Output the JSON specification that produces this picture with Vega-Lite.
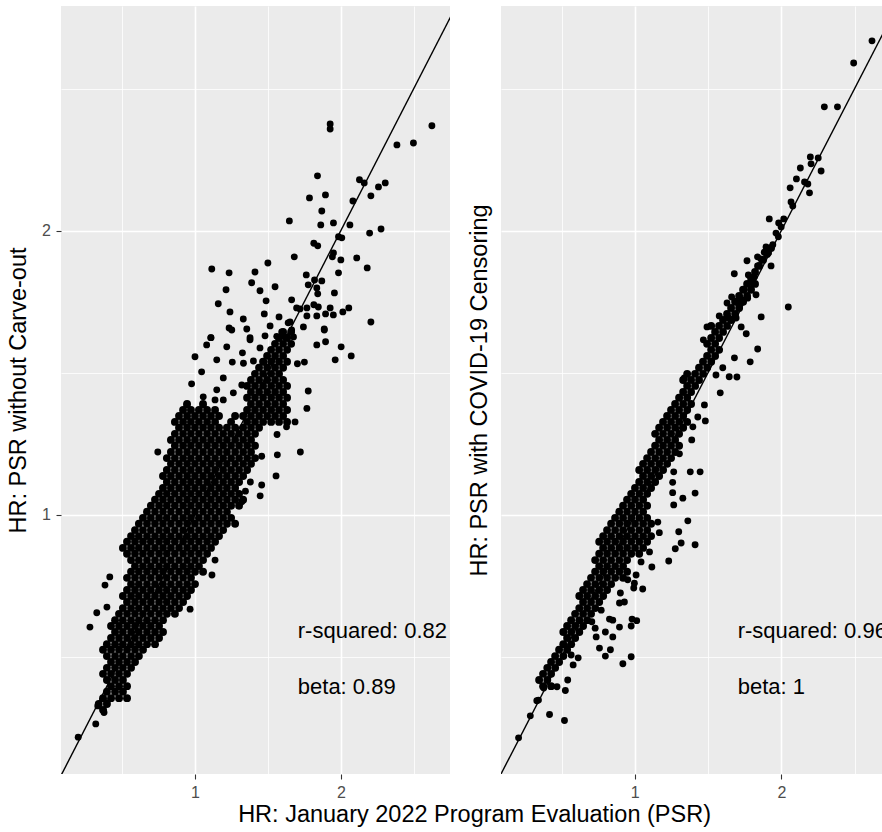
{
"$schema": "https://vega.github.io/schema/vega-lite/v6.json",
"padding": {"left": 6, "top": 6, "right": 0, "bottom": 0},
"background": "white",
"config": {"view": {"fill": "#EBEBEB", "stroke": null}, "font": "Liberation Sans"},
"title": {"text": "HR: January 2022 Program Evaluation (PSR)", "orient": "bottom", "anchor": "middle", "fontSize": 23.5, "fontWeight": "normal", "color": "#000000", "font": "Liberation Sans", "offset": 3, "dx": 30},
"spacing": 17,
"datasets": {
"Lcore": [
{"x":0.646,"y":0.621},
{"x":0.633,"y":0.630},{"x":0.658,"y":0.630},
{"x":0.646,"y":0.639},{"x":0.671,"y":0.639},{"x":0.697,"y":0.639},{"x":0.724,"y":0.639},
{"x":0.658,"y":0.649},{"x":0.684,"y":0.649},{"x":0.710,"y":0.649},
{"x":0.671,"y":0.658},{"x":0.697,"y":0.658},{"x":0.724,"y":0.658},
{"x":0.658,"y":0.668},{"x":0.684,"y":0.668},{"x":0.710,"y":0.668},
{"x":0.646,"y":0.678},{"x":0.671,"y":0.678},{"x":0.697,"y":0.678},{"x":0.724,"y":0.678},
{"x":0.658,"y":0.688},{"x":0.684,"y":0.688},{"x":0.710,"y":0.688},{"x":0.738,"y":0.688},
{"x":0.671,"y":0.698},{"x":0.697,"y":0.698},{"x":0.724,"y":0.698},{"x":0.752,"y":0.698},
{"x":0.658,"y":0.708},{"x":0.684,"y":0.708},{"x":0.710,"y":0.708},{"x":0.738,"y":0.708},{"x":0.766,"y":0.708},
{"x":0.646,"y":0.719},{"x":0.671,"y":0.719},{"x":0.697,"y":0.719},{"x":0.724,"y":0.719},{"x":0.752,"y":0.719},{"x":0.781,"y":0.719},
{"x":0.658,"y":0.729},{"x":0.684,"y":0.729},{"x":0.710,"y":0.729},{"x":0.738,"y":0.729},{"x":0.766,"y":0.729},{"x":0.796,"y":0.729},{"x":0.827,"y":0.729},
{"x":0.671,"y":0.740},{"x":0.697,"y":0.740},{"x":0.724,"y":0.740},{"x":0.752,"y":0.740},{"x":0.781,"y":0.740},{"x":0.811,"y":0.740},{"x":0.843,"y":0.740},
{"x":0.684,"y":0.751},{"x":0.710,"y":0.751},{"x":0.738,"y":0.751},{"x":0.766,"y":0.751},{"x":0.796,"y":0.751},{"x":0.827,"y":0.751},{"x":0.859,"y":0.751},
{"x":0.671,"y":0.762},{"x":0.697,"y":0.762},{"x":0.724,"y":0.762},{"x":0.752,"y":0.762},{"x":0.781,"y":0.762},{"x":0.811,"y":0.762},{"x":0.843,"y":0.762},
{"x":0.684,"y":0.773},{"x":0.710,"y":0.773},{"x":0.738,"y":0.773},{"x":0.766,"y":0.773},{"x":0.796,"y":0.773},{"x":0.827,"y":0.773},{"x":0.859,"y":0.773},
{"x":0.697,"y":0.785},{"x":0.724,"y":0.785},{"x":0.752,"y":0.785},{"x":0.781,"y":0.785},{"x":0.811,"y":0.785},{"x":0.843,"y":0.785},{"x":0.875,"y":0.785},{"x":0.909,"y":0.785},
{"x":0.710,"y":0.796},{"x":0.738,"y":0.796},{"x":0.766,"y":0.796},{"x":0.796,"y":0.796},{"x":0.827,"y":0.796},{"x":0.859,"y":0.796},{"x":0.892,"y":0.796},{"x":0.927,"y":0.796},
{"x":0.724,"y":0.808},{"x":0.752,"y":0.808},{"x":0.781,"y":0.808},{"x":0.811,"y":0.808},{"x":0.843,"y":0.808},{"x":0.875,"y":0.808},{"x":0.909,"y":0.808},{"x":0.945,"y":0.808},
{"x":0.710,"y":0.820},{"x":0.738,"y":0.820},{"x":0.766,"y":0.820},{"x":0.796,"y":0.820},{"x":0.827,"y":0.820},{"x":0.859,"y":0.820},{"x":0.892,"y":0.820},{"x":0.927,"y":0.820},{"x":0.963,"y":0.820},
{"x":0.724,"y":0.832},{"x":0.752,"y":0.832},{"x":0.781,"y":0.832},{"x":0.811,"y":0.832},{"x":0.843,"y":0.832},{"x":0.875,"y":0.832},{"x":0.909,"y":0.832},{"x":0.945,"y":0.832},{"x":0.981,"y":0.832},
{"x":0.738,"y":0.844},{"x":0.766,"y":0.844},{"x":0.796,"y":0.844},{"x":0.827,"y":0.844},{"x":0.859,"y":0.844},{"x":0.892,"y":0.844},{"x":0.927,"y":0.844},{"x":0.963,"y":0.844},{"x":1.0,"y":0.844},
{"x":0.724,"y":0.857},{"x":0.752,"y":0.857},{"x":0.781,"y":0.857},{"x":0.811,"y":0.857},{"x":0.843,"y":0.857},{"x":0.875,"y":0.857},{"x":0.909,"y":0.857},{"x":0.945,"y":0.857},{"x":0.981,"y":0.857},
{"x":0.738,"y":0.870},{"x":0.766,"y":0.870},{"x":0.796,"y":0.870},{"x":0.827,"y":0.870},{"x":0.859,"y":0.870},{"x":0.892,"y":0.870},{"x":0.927,"y":0.870},{"x":0.963,"y":0.870},{"x":1.0,"y":0.870},{"x":1.039,"y":0.870},
{"x":0.752,"y":0.882},{"x":0.781,"y":0.882},{"x":0.811,"y":0.882},{"x":0.843,"y":0.882},{"x":0.875,"y":0.882},{"x":0.909,"y":0.882},{"x":0.945,"y":0.882},{"x":0.981,"y":0.882},{"x":1.019,"y":0.882},
{"x":0.738,"y":0.895},{"x":0.766,"y":0.895},{"x":0.796,"y":0.895},{"x":0.827,"y":0.895},{"x":0.859,"y":0.895},{"x":0.892,"y":0.895},{"x":0.927,"y":0.895},{"x":0.963,"y":0.895},{"x":1.0,"y":0.895},{"x":1.039,"y":0.895},
{"x":0.724,"y":0.909},{"x":0.752,"y":0.909},{"x":0.781,"y":0.909},{"x":0.811,"y":0.909},{"x":0.843,"y":0.909},{"x":0.875,"y":0.909},{"x":0.909,"y":0.909},{"x":0.945,"y":0.909},{"x":0.981,"y":0.909},{"x":1.019,"y":0.909},{"x":1.059,"y":0.909},
{"x":0.710,"y":0.922},{"x":0.738,"y":0.922},{"x":0.766,"y":0.922},{"x":0.796,"y":0.922},{"x":0.827,"y":0.922},{"x":0.859,"y":0.922},{"x":0.892,"y":0.922},{"x":0.927,"y":0.922},{"x":0.963,"y":0.922},{"x":1.0,"y":0.922},{"x":1.039,"y":0.922},{"x":1.079,"y":0.922},
{"x":0.724,"y":0.936},{"x":0.752,"y":0.936},{"x":0.781,"y":0.936},{"x":0.811,"y":0.936},{"x":0.843,"y":0.936},{"x":0.875,"y":0.936},{"x":0.909,"y":0.936},{"x":0.945,"y":0.936},{"x":0.981,"y":0.936},{"x":1.019,"y":0.936},{"x":1.059,"y":0.936},{"x":1.1,"y":0.936},
{"x":0.738,"y":0.949},{"x":0.766,"y":0.949},{"x":0.796,"y":0.949},{"x":0.827,"y":0.949},{"x":0.859,"y":0.949},{"x":0.892,"y":0.949},{"x":0.927,"y":0.949},{"x":0.963,"y":0.949},{"x":1.0,"y":0.949},{"x":1.039,"y":0.949},{"x":1.079,"y":0.949},{"x":1.121,"y":0.949},
{"x":0.752,"y":0.963},{"x":0.781,"y":0.963},{"x":0.811,"y":0.963},{"x":0.843,"y":0.963},{"x":0.875,"y":0.963},{"x":0.909,"y":0.963},{"x":0.945,"y":0.963},{"x":0.981,"y":0.963},{"x":1.019,"y":0.963},{"x":1.059,"y":0.963},{"x":1.1,"y":0.963},{"x":1.143,"y":0.963},
{"x":0.766,"y":0.978},{"x":0.796,"y":0.978},{"x":0.827,"y":0.978},{"x":0.859,"y":0.978},{"x":0.892,"y":0.978},{"x":0.927,"y":0.978},{"x":0.963,"y":0.978},{"x":1.0,"y":0.978},{"x":1.039,"y":0.978},{"x":1.079,"y":0.978},{"x":1.121,"y":0.978},{"x":1.164,"y":0.978},{"x":1.21,"y":0.978},
{"x":0.781,"y":0.992},{"x":0.811,"y":0.992},{"x":0.843,"y":0.992},{"x":0.875,"y":0.992},{"x":0.909,"y":0.992},{"x":0.945,"y":0.992},{"x":0.981,"y":0.992},{"x":1.019,"y":0.992},{"x":1.059,"y":0.992},{"x":1.1,"y":0.992},{"x":1.143,"y":0.992},{"x":1.187,"y":0.992},
{"x":0.796,"y":1.007},{"x":0.827,"y":1.007},{"x":0.859,"y":1.007},{"x":0.892,"y":1.007},{"x":0.927,"y":1.007},{"x":0.963,"y":1.007},{"x":1.0,"y":1.007},{"x":1.039,"y":1.007},{"x":1.079,"y":1.007},{"x":1.121,"y":1.007},{"x":1.164,"y":1.007},
{"x":0.811,"y":1.022},{"x":0.843,"y":1.022},{"x":0.875,"y":1.022},{"x":0.909,"y":1.022},{"x":0.945,"y":1.022},{"x":0.981,"y":1.022},{"x":1.019,"y":1.022},{"x":1.059,"y":1.022},{"x":1.1,"y":1.022},{"x":1.143,"y":1.022},{"x":1.187,"y":1.022},{"x":1.233,"y":1.022},
{"x":0.827,"y":1.037},{"x":0.859,"y":1.037},{"x":0.892,"y":1.037},{"x":0.927,"y":1.037},{"x":0.963,"y":1.037},{"x":1.0,"y":1.037},{"x":1.039,"y":1.037},{"x":1.079,"y":1.037},{"x":1.121,"y":1.037},{"x":1.164,"y":1.037},{"x":1.21,"y":1.037},{"x":1.257,"y":1.037},
{"x":0.843,"y":1.052},{"x":0.875,"y":1.052},{"x":0.909,"y":1.052},{"x":0.945,"y":1.052},{"x":0.981,"y":1.052},{"x":1.019,"y":1.052},{"x":1.059,"y":1.052},{"x":1.1,"y":1.052},{"x":1.143,"y":1.052},{"x":1.187,"y":1.052},{"x":1.233,"y":1.052},
{"x":0.859,"y":1.067},{"x":0.892,"y":1.067},{"x":0.927,"y":1.067},{"x":0.963,"y":1.067},{"x":1.0,"y":1.067},{"x":1.039,"y":1.067},{"x":1.079,"y":1.067},{"x":1.121,"y":1.067},{"x":1.164,"y":1.067},{"x":1.21,"y":1.067},
{"x":0.875,"y":1.083},{"x":0.909,"y":1.083},{"x":0.945,"y":1.083},{"x":0.981,"y":1.083},{"x":1.019,"y":1.083},{"x":1.059,"y":1.083},{"x":1.1,"y":1.083},{"x":1.143,"y":1.083},{"x":1.187,"y":1.083},{"x":1.233,"y":1.083},
{"x":0.859,"y":1.099},{"x":0.892,"y":1.099},{"x":0.927,"y":1.099},{"x":0.963,"y":1.099},{"x":1.0,"y":1.099},{"x":1.039,"y":1.099},{"x":1.079,"y":1.099},{"x":1.121,"y":1.099},{"x":1.164,"y":1.099},{"x":1.21,"y":1.099},{"x":1.257,"y":1.099},
{"x":0.875,"y":1.115},{"x":0.909,"y":1.115},{"x":0.945,"y":1.115},{"x":0.981,"y":1.115},{"x":1.019,"y":1.115},{"x":1.059,"y":1.115},{"x":1.1,"y":1.115},{"x":1.143,"y":1.115},{"x":1.187,"y":1.115},{"x":1.233,"y":1.115},{"x":1.281,"y":1.115},
{"x":0.892,"y":1.132},{"x":0.927,"y":1.132},{"x":0.963,"y":1.132},{"x":1.0,"y":1.132},{"x":1.039,"y":1.132},{"x":1.079,"y":1.132},{"x":1.121,"y":1.132},{"x":1.164,"y":1.132},{"x":1.21,"y":1.132},{"x":1.257,"y":1.132},{"x":1.305,"y":1.132},
{"x":0.875,"y":1.148},{"x":0.909,"y":1.148},{"x":0.945,"y":1.148},{"x":0.981,"y":1.148},{"x":1.019,"y":1.148},{"x":1.059,"y":1.148},{"x":1.1,"y":1.148},{"x":1.143,"y":1.148},{"x":1.187,"y":1.148},{"x":1.233,"y":1.148},{"x":1.281,"y":1.148},{"x":1.33,"y":1.148},
{"x":0.892,"y":1.165},{"x":0.927,"y":1.165},{"x":0.963,"y":1.165},{"x":1.0,"y":1.165},{"x":1.039,"y":1.165},{"x":1.079,"y":1.165},{"x":1.121,"y":1.165},{"x":1.164,"y":1.165},{"x":1.21,"y":1.165},{"x":1.257,"y":1.165},{"x":1.305,"y":1.165},
{"x":0.909,"y":1.183},{"x":0.945,"y":1.183},{"x":0.981,"y":1.183},{"x":1.019,"y":1.183},{"x":1.059,"y":1.183},{"x":1.1,"y":1.183},{"x":1.143,"y":1.183},{"x":1.187,"y":1.183},{"x":1.233,"y":1.183},{"x":1.281,"y":1.183},{"x":1.33,"y":1.183},
{"x":0.892,"y":1.2},{"x":0.927,"y":1.2},{"x":0.963,"y":1.2},{"x":1.0,"y":1.2},{"x":1.039,"y":1.2},{"x":1.079,"y":1.2},{"x":1.121,"y":1.2},{"x":1.164,"y":1.2},{"x":1.21,"y":1.2},{"x":1.257,"y":1.2},{"x":1.305,"y":1.2},
{"x":0.909,"y":1.218},{"x":0.945,"y":1.218},{"x":0.981,"y":1.218},{"x":1.019,"y":1.218},{"x":1.059,"y":1.218},{"x":1.1,"y":1.218},{"x":1.143,"y":1.218},{"x":1.187,"y":1.218},{"x":1.233,"y":1.218},{"x":1.281,"y":1.218},{"x":1.33,"y":1.218},
{"x":0.927,"y":1.236},{"x":0.963,"y":1.236},{"x":1.0,"y":1.236},{"x":1.039,"y":1.236},{"x":1.079,"y":1.236},{"x":1.121,"y":1.236},{"x":1.164,"y":1.236},{"x":1.21,"y":1.236},{"x":1.257,"y":1.236},{"x":1.305,"y":1.236},{"x":1.356,"y":1.236},
{"x":0.909,"y":1.254},{"x":0.945,"y":1.254},{"x":0.981,"y":1.254},{"x":1.019,"y":1.254},{"x":1.059,"y":1.254},{"x":1.1,"y":1.254},{"x":1.187,"y":1.254},{"x":1.281,"y":1.254},{"x":1.33,"y":1.254},{"x":1.382,"y":1.254},{"x":1.436,"y":1.254},{"x":1.491,"y":1.254},{"x":1.549,"y":1.254},
{"x":0.927,"y":1.272},{"x":0.963,"y":1.272},{"x":1.0,"y":1.272},{"x":1.039,"y":1.272},{"x":1.079,"y":1.272},{"x":1.121,"y":1.272},{"x":1.21,"y":1.272},{"x":1.257,"y":1.272},{"x":1.305,"y":1.272},{"x":1.356,"y":1.272},{"x":1.409,"y":1.272},{"x":1.463,"y":1.272},{"x":1.52,"y":1.272},
{"x":0.945,"y":1.291},{"x":0.981,"y":1.291},{"x":1.019,"y":1.291},{"x":1.059,"y":1.291},{"x":1.1,"y":1.291},{"x":1.281,"y":1.291},{"x":1.33,"y":1.291},{"x":1.382,"y":1.291},{"x":1.436,"y":1.291},{"x":1.491,"y":1.291},{"x":1.549,"y":1.291},
{"x":0.963,"y":1.31},{"x":1.039,"y":1.31},{"x":1.305,"y":1.31},{"x":1.356,"y":1.31},{"x":1.409,"y":1.31},{"x":1.463,"y":1.31},{"x":1.52,"y":1.31},
{"x":1.281,"y":1.33},{"x":1.33,"y":1.33},{"x":1.382,"y":1.33},{"x":1.436,"y":1.33},{"x":1.491,"y":1.33},{"x":1.549,"y":1.33},
{"x":1.305,"y":1.349},{"x":1.356,"y":1.349},{"x":1.409,"y":1.349},{"x":1.463,"y":1.349},{"x":1.52,"y":1.349},
{"x":1.281,"y":1.369},{"x":1.33,"y":1.369},{"x":1.382,"y":1.369},{"x":1.436,"y":1.369},{"x":1.491,"y":1.369},{"x":1.549,"y":1.369},
{"x":1.305,"y":1.389},{"x":1.356,"y":1.389},{"x":1.409,"y":1.389},{"x":1.463,"y":1.389},{"x":1.52,"y":1.389},
{"x":1.33,"y":1.41},{"x":1.382,"y":1.41},{"x":1.436,"y":1.41},{"x":1.491,"y":1.41},
{"x":1.356,"y":1.431},{"x":1.409,"y":1.431},{"x":1.463,"y":1.431},{"x":1.52,"y":1.431},
{"x":1.382,"y":1.452},{"x":1.436,"y":1.452},{"x":1.491,"y":1.452},{"x":1.549,"y":1.452},
{"x":1.409,"y":1.473},{"x":1.463,"y":1.473},{"x":1.52,"y":1.473},
{"x":1.436,"y":1.495},{"x":1.491,"y":1.495},{"x":1.549,"y":1.495},
{"x":1.463,"y":1.517},{"x":1.52,"y":1.517},{"x":1.579,"y":1.517},
{"x":1.491,"y":1.539},{"x":1.549,"y":1.539},
{"x":1.52,"y":1.562},{"x":1.579,"y":1.562}
],
"Lout": [
{"x":0.574,"y":0.581},{"x":0.624,"y":0.600},{"x":0.630,"y":0.627},{"x":0.649,"y":0.617},{"x":0.658,"y":0.632},{"x":0.607,"y":0.760},{"x":0.627,"y":0.787},{"x":0.658,"y":0.798},{"x":0.652,"y":0.842},{"x":0.667,"y":0.859},{"x":0.977,"y":0.794},{"x":1.084,"y":0.863},{"x":1.10,"y":0.895},
{"x":1.249,"y":1.032},{"x":1.363,"y":1.047},{"x":1.301,"y":1.083},{"x":1.373,"y":1.075},{"x":1.271,"y":1.059},{"x":1.470,"y":1.099},{"x":1.479,"y":1.157},{"x":1.373,"y":1.153},{"x":1.650,"y":1.165},{"x":0.838,"y":1.165},{"x":1.609,"y":1.254},{"x":1.545,"y":1.239},{"x":1.702,"y":1.296},{"x":1.713,"y":1.352},{"x":0.962,"y":1.307},{"x":1.040,"y":1.333},{"x":1.10,"y":1.323},{"x":1.144,"y":1.323},{"x":0.984,"y":1.376},{"x":1.109,"y":1.356},{"x":1.144,"y":1.396},{"x":1.200,"y":1.346},{"x":1.249,"y":1.372},{"x":1.0,"y":1.470},{"x":1.032,"y":1.417},{"x":1.109,"y":1.459},{"x":1.194,"y":1.451},{"x":1.259,"y":1.447},{"x":1.320,"y":1.455},{"x":1.388,"y":1.451},{"x":1.627,"y":1.445},{"x":1.682,"y":1.451},{"x":1.947,"y":1.459},{"x":2.101,"y":1.473},{"x":1.057,"y":1.513},{"x":1.078,"y":1.540},{"x":1.163,"y":1.506},{"x":1.253,"y":1.484},{"x":1.299,"y":1.532},{"x":1.362,"y":1.502},{"x":1.395,"y":1.547},{"x":1.784,"y":1.513},{"x":1.860,"y":1.525},{"x":2.003,"y":1.506},{"x":1.039,"y":1.307},{"x":1.477,"y":1.216},{"x":1.849,"y":1.569},
{"x":1.901,"y":2.595},{"x":1.901,"y":2.563},{"x":3.083,"y":2.583},{"x":2.611,"y":2.465},{"x":2.824,"y":2.477},{"x":1.790,"y":2.286},{"x":2.185,"y":2.264},{"x":2.235,"y":2.247},{"x":2.470,"y":2.247},{"x":2.392,"y":2.225},{"x":1.723,"y":2.166},{"x":1.859,"y":2.182},{"x":2.118,"y":2.150},{"x":2.307,"y":2.177},{"x":1.827,"y":2.098},{"x":1.566,"y":2.048},{"x":1.818,"y":2.028},{"x":1.931,"y":2.038},{"x":2.088,"y":2.028},{"x":2.293,"y":1.988},{"x":2.421,"y":2.008},{"x":1.978,"y":1.970},{"x":2.009,"y":1.965},{"x":1.759,"y":1.939},{"x":1.792,"y":1.927},{"x":1.931,"y":1.894},{"x":1.921,"y":1.876},{"x":1.603,"y":1.876},{"x":2.0,"y":1.862},{"x":2.157,"y":1.871},{"x":1.083,"y":1.821},{"x":1.176,"y":1.804},{"x":1.414,"y":1.848},{"x":1.330,"y":1.808},{"x":1.697,"y":1.795},{"x":1.978,"y":1.804},{"x":2.267,"y":1.826},{"x":1.309,"y":1.761},{"x":1.463,"y":1.744},{"x":1.765,"y":1.773},{"x":1.827,"y":1.769},{"x":1.713,"y":1.752},{"x":1.159,"y":1.731},{"x":1.362,"y":1.727},{"x":1.784,"y":1.739},{"x":1.940,"y":1.718},{"x":1.792,"y":1.714},{"x":1.117,"y":1.673},{"x":1.402,"y":1.685},{"x":1.583,"y":1.689},{"x":1.181,"y":1.640},{"x":1.390,"y":1.632},{"x":1.258,"y":1.612},{"x":1.491,"y":1.620},{"x":1.647,"y":1.652},{"x":1.702,"y":1.656},{"x":1.759,"y":1.669},{"x":1.797,"y":1.660},{"x":1.901,"y":1.656},{"x":1.702,"y":1.624},{"x":1.784,"y":1.624},{"x":1.860,"y":1.632},{"x":1.930,"y":1.628},{"x":2.019,"y":1.640},{"x":2.077,"y":1.656},{"x":2.307,"y":1.600},{"x":1.176,"y":1.577},{"x":1.191,"y":1.569},{"x":1.279,"y":1.573},{"x":1.429,"y":1.585},{"x":1.557,"y":1.597},{"x":1.674,"y":1.581},{"x":1.848,"y":1.573},{"x":1.079,"y":1.540},{"x":1.299,"y":1.540},{"x":1.475,"y":1.545},{"x":1.534,"y":1.543},{"x":1.571,"y":1.600},{"x":1.621,"y":1.656},{"x":1.583,"y":1.569},{"x":1.510,"y":1.562},{"x":1.597,"y":1.543}
],
"Rcore": [
{"x":0.648,"y":0.658},{"x":0.673,"y":0.658},
{"x":0.636,"y":0.668},{"x":0.661,"y":0.668},
{"x":0.648,"y":0.678},{"x":0.673,"y":0.678},
{"x":0.661,"y":0.688},{"x":0.686,"y":0.688},
{"x":0.673,"y":0.698},{"x":0.699,"y":0.698},
{"x":0.686,"y":0.708},{"x":0.713,"y":0.708},
{"x":0.699,"y":0.719},{"x":0.726,"y":0.719},
{"x":0.713,"y":0.729},{"x":0.740,"y":0.729},
{"x":0.726,"y":0.740},{"x":0.754,"y":0.740},
{"x":0.713,"y":0.751},{"x":0.740,"y":0.751},{"x":0.769,"y":0.751},
{"x":0.726,"y":0.762},{"x":0.754,"y":0.762},{"x":0.783,"y":0.762},
{"x":0.740,"y":0.773},{"x":0.769,"y":0.773},{"x":0.798,"y":0.773},
{"x":0.754,"y":0.785},{"x":0.783,"y":0.785},{"x":0.813,"y":0.785},
{"x":0.769,"y":0.796},{"x":0.798,"y":0.796},{"x":0.829,"y":0.796},
{"x":0.783,"y":0.808},{"x":0.813,"y":0.808},{"x":0.845,"y":0.808},
{"x":0.769,"y":0.820},{"x":0.798,"y":0.820},{"x":0.829,"y":0.820},{"x":0.861,"y":0.820},
{"x":0.783,"y":0.832},{"x":0.813,"y":0.832},{"x":0.845,"y":0.832},{"x":0.877,"y":0.832},
{"x":0.798,"y":0.844},{"x":0.829,"y":0.844},{"x":0.861,"y":0.844},{"x":0.894,"y":0.844},
{"x":0.813,"y":0.857},{"x":0.845,"y":0.857},{"x":0.877,"y":0.857},{"x":0.911,"y":0.857},{"x":0.946,"y":0.857},
{"x":0.829,"y":0.870},{"x":0.861,"y":0.870},{"x":0.894,"y":0.870},{"x":0.929,"y":0.870},{"x":0.964,"y":0.870},
{"x":0.845,"y":0.882},{"x":0.877,"y":0.882},{"x":0.911,"y":0.882},{"x":0.946,"y":0.882},
{"x":0.829,"y":0.895},{"x":0.861,"y":0.895},{"x":0.894,"y":0.895},{"x":0.929,"y":0.895},{"x":0.964,"y":0.895},
{"x":0.845,"y":0.909},{"x":0.877,"y":0.909},{"x":0.911,"y":0.909},{"x":0.946,"y":0.909},{"x":0.983,"y":0.909},{"x":1.021,"y":0.909},
{"x":0.861,"y":0.922},{"x":0.894,"y":0.922},{"x":0.929,"y":0.922},{"x":0.964,"y":0.922},{"x":1.001,"y":0.922},{"x":1.040,"y":0.922},
{"x":0.845,"y":0.936},{"x":0.877,"y":0.936},{"x":0.911,"y":0.936},{"x":0.946,"y":0.936},{"x":0.983,"y":0.936},{"x":1.021,"y":0.936},{"x":1.060,"y":0.936},
{"x":0.861,"y":0.949},{"x":0.894,"y":0.949},{"x":0.929,"y":0.949},{"x":0.964,"y":0.949},{"x":1.001,"y":0.949},{"x":1.040,"y":0.949},{"x":1.080,"y":0.949},
{"x":0.877,"y":0.963},{"x":0.911,"y":0.963},{"x":0.946,"y":0.963},{"x":0.983,"y":0.963},{"x":1.021,"y":0.963},{"x":1.060,"y":0.963},
{"x":0.894,"y":0.978},{"x":0.929,"y":0.978},{"x":0.964,"y":0.978},{"x":1.001,"y":0.978},{"x":1.040,"y":0.978},{"x":1.080,"y":0.978},
{"x":0.911,"y":0.992},{"x":0.946,"y":0.992},{"x":0.983,"y":0.992},{"x":1.021,"y":0.992},{"x":1.060,"y":0.992},
{"x":0.929,"y":1.007},{"x":0.964,"y":1.007},{"x":1.001,"y":1.007},{"x":1.040,"y":1.007},
{"x":0.946,"y":1.022},{"x":0.983,"y":1.022},{"x":1.021,"y":1.022},{"x":1.060,"y":1.022},
{"x":0.964,"y":1.037},{"x":1.001,"y":1.037},{"x":1.040,"y":1.037},
{"x":0.983,"y":1.052},{"x":1.021,"y":1.052},{"x":1.060,"y":1.052},
{"x":1.001,"y":1.067},{"x":1.040,"y":1.067},{"x":1.080,"y":1.067},
{"x":1.021,"y":1.083},{"x":1.060,"y":1.083},{"x":1.101,"y":1.083},
{"x":1.040,"y":1.099},{"x":1.080,"y":1.099},{"x":1.122,"y":1.099},
{"x":1.021,"y":1.115},{"x":1.060,"y":1.115},{"x":1.101,"y":1.115},{"x":1.143,"y":1.115},
{"x":1.040,"y":1.132},{"x":1.080,"y":1.132},{"x":1.122,"y":1.132},{"x":1.165,"y":1.132},
{"x":1.060,"y":1.148},{"x":1.101,"y":1.148},{"x":1.143,"y":1.148},{"x":1.187,"y":1.148},
{"x":1.080,"y":1.165},{"x":1.122,"y":1.165},{"x":1.165,"y":1.165},{"x":1.210,"y":1.165},
{"x":1.101,"y":1.183},{"x":1.143,"y":1.183},{"x":1.187,"y":1.183},{"x":1.233,"y":1.183},
{"x":1.122,"y":1.2},{"x":1.165,"y":1.2},{"x":1.210,"y":1.2},
{"x":1.101,"y":1.218},{"x":1.143,"y":1.218},{"x":1.187,"y":1.218},{"x":1.233,"y":1.218},
{"x":1.122,"y":1.236},{"x":1.165,"y":1.236},{"x":1.210,"y":1.236},{"x":1.257,"y":1.236},
{"x":1.143,"y":1.254},{"x":1.187,"y":1.254},{"x":1.233,"y":1.254},{"x":1.281,"y":1.254},
{"x":1.165,"y":1.272},{"x":1.210,"y":1.272},{"x":1.257,"y":1.272},
{"x":1.187,"y":1.291},{"x":1.233,"y":1.291},{"x":1.281,"y":1.291},
{"x":1.210,"y":1.31},{"x":1.257,"y":1.31},{"x":1.305,"y":1.31},
{"x":1.233,"y":1.33},{"x":1.281,"y":1.33},
{"x":1.257,"y":1.349},{"x":1.305,"y":1.349},
{"x":1.281,"y":1.369},{"x":1.330,"y":1.369},
{"x":1.257,"y":1.389},{"x":1.305,"y":1.389},{"x":1.355,"y":1.389},
{"x":1.281,"y":1.41},{"x":1.330,"y":1.41},{"x":1.381,"y":1.41},
{"x":1.355,"y":1.431},{"x":1.408,"y":1.431},
{"x":1.381,"y":1.452},{"x":1.435,"y":1.452},
{"x":1.408,"y":1.473},{"x":1.462,"y":1.473},
{"x":1.435,"y":1.495},{"x":1.490,"y":1.495},
{"x":1.408,"y":1.517},{"x":1.462,"y":1.517},
{"x":1.435,"y":1.539},{"x":1.490,"y":1.539},
{"x":1.462,"y":1.562},{"x":1.518,"y":1.562},
{"x":1.435,"y":1.585},{"x":1.490,"y":1.585},{"x":1.547,"y":1.585},
{"x":1.518,"y":1.608},{"x":1.577,"y":1.608},
{"x":1.547,"y":1.632},{"x":1.607,"y":1.632},
{"x":1.577,"y":1.656},{"x":1.638,"y":1.656},
{"x":1.607,"y":1.681},{"x":1.669,"y":1.681},
{"x":1.638,"y":1.705},{"x":1.701,"y":1.705},
{"x":1.669,"y":1.731},{"x":1.733,"y":1.731},
{"x":1.701,"y":1.756},{"x":1.766,"y":1.756},
{"x":1.733,"y":1.782},{"x":1.766,"y":1.808},{"x":1.800,"y":1.835},{"x":1.834,"y":1.862},{"x":1.869,"y":1.889},{"x":1.905,"y":1.917}
],
"Rout": [
{"x":0.577,"y":0.580},{"x":0.610,"y":0.612},{"x":0.629,"y":0.635},{"x":0.634,"y":0.636},{"x":0.668,"y":0.614},{"x":0.717,"y":0.605},{"x":0.650,"y":0.655},{"x":0.692,"y":0.657},{"x":0.720,"y":0.651},{"x":0.728,"y":0.668},{"x":0.747,"y":0.693},{"x":0.765,"y":0.705},{"x":0.945,"y":0.695},{"x":0.983,"y":0.707},{"x":0.740,"y":0.710},{"x":0.846,"y":0.722},{"x":0.870,"y":0.708},{"x":0.891,"y":0.719},{"x":0.833,"y":0.742},{"x":0.870,"y":0.751},{"x":0.901,"y":0.742},{"x":0.829,"y":0.758},{"x":0.930,"y":0.760},{"x":0.983,"y":0.762},{"x":1.009,"y":0.772},{"x":0.987,"y":0.775},{"x":0.816,"y":0.770},{"x":0.887,"y":0.775},{"x":0.901,"y":0.773},{"x":0.853,"y":0.792},{"x":0.930,"y":0.806},{"x":0.952,"y":0.808},{"x":0.934,"y":0.826},{"x":0.995,"y":0.836},{"x":1.038,"y":0.834},{"x":0.967,"y":0.853},{"x":1.006,"y":0.863},{"x":0.998,"y":0.846},{"x":1.084,"y":0.880},{"x":1.030,"y":0.891},{"x":1.174,"y":0.893},{"x":1.072,"y":0.913},{"x":1.211,"y":0.920},{"x":1.330,"y":0.929},{"x":1.245,"y":0.933},{"x":1.231,"y":0.959},{"x":1.123,"y":0.957},{"x":1.285,"y":0.985},{"x":1.115,"y":0.982},{"x":1.202,"y":1.024},{"x":1.255,"y":1.041},{"x":1.330,"y":1.054},{"x":1.196,"y":1.055},{"x":1.196,"y":1.082},{"x":1.202,"y":1.110},{"x":1.300,"y":1.110},{"x":1.362,"y":1.110},{"x":1.235,"y":1.160},{"x":1.309,"y":1.200},{"x":1.316,"y":1.239},{"x":1.347,"y":1.269},{"x":1.396,"y":1.257},{"x":1.390,"y":1.307},{"x":1.235,"y":1.330},{"x":1.498,"y":1.346},{"x":1.264,"y":1.396},{"x":1.468,"y":1.406},{"x":1.563,"y":1.400},{"x":1.621,"y":1.399},{"x":1.516,"y":1.431},{"x":1.602,"y":1.466},{"x":1.726,"y":1.452},{"x":1.788,"y":1.498},{"x":1.383,"y":1.532},{"x":1.694,"y":1.555},{"x":1.654,"y":1.581},{"x":1.407,"y":1.581},{"x":1.491,"y":1.624},{"x":1.818,"y":1.620},
{"x":3.071,"y":3.178},{"x":2.816,"y":3.011},{"x":2.451,"y":2.705},{"x":2.608,"y":2.705},{"x":2.294,"y":2.394},{"x":2.381,"y":2.388},{"x":2.302,"y":2.354},{"x":2.414,"y":2.313},{"x":2.188,"y":2.330},{"x":2.148,"y":2.269},{"x":2.232,"y":2.252},{"x":2.267,"y":2.241},{"x":2.285,"y":2.193},{"x":2.085,"y":2.220},{"x":2.094,"y":2.145},{"x":2.111,"y":2.124},{"x":1.889,"y":2.058},{"x":1.975,"y":2.038},{"x":2.023,"y":2.058},{"x":1.998,"y":2.018},{"x":1.950,"y":1.988},{"x":1.972,"y":1.970},{"x":1.860,"y":1.922},{"x":1.921,"y":1.932},{"x":1.883,"y":1.894},{"x":1.845,"y":1.897},{"x":1.787,"y":1.876},{"x":1.816,"y":1.866},{"x":1.700,"y":1.858},{"x":1.905,"y":1.835},{"x":1.787,"y":1.835},{"x":1.601,"y":1.800},{"x":1.711,"y":1.795},{"x":1.760,"y":1.787},{"x":1.741,"y":1.761},{"x":1.678,"y":1.731},{"x":1.774,"y":1.710},{"x":1.581,"y":1.701},{"x":1.547,"y":1.676},{"x":1.626,"y":1.678},{"x":1.665,"y":1.689},{"x":1.705,"y":1.696},{"x":2.067,"y":1.660},{"x":1.557,"y":1.616},{"x":1.615,"y":1.616}
]
},
"hconcat": [
{
"width": 389, "height": 768,
"encoding": {
"x": {"field": "x", "type": "quantitative", "scale": {"type": "log", "domain": [0.529, 3.36], "nice": false, "zero": false},
 "axis": {"title": null, "values": [0.7071, 1, 1.4142, 2, 2.8284], "labelExpr": "datum.value == 1 ? '1' : (datum.value == 2 ? '2' : '')", "labelOverlap": false, "labelFlush": false, "domain": false, "grid": true, "gridColor": "#FFFFFF", "gridWidth": {"condition": {"test": "datum.value == 1 || datum.value == 2", "value": 1.6}, "value": 0.8}, "tickColor": "#333333", "tickOpacity": {"condition": {"test": "datum.value == 1 || datum.value == 2", "value": 1}, "value": 0}, "tickSize": 5, "tickWidth": 1.1, "labelColor": "#4D4D4D", "labelFontSize": 16, "labelFont": "Liberation Sans", "labelPadding": 5}},
"y": {"field": "y", "type": "quantitative", "scale": {"type": "log", "domain": [0.531, 3.46], "nice": false, "zero": false},
 "axis": {"title": "HR: PSR without Carve-out", "titleFont": "Liberation Sans", "titleFontSize": 23.5, "titleFontWeight": "normal", "titleColor": "#000000", "titlePadding": 11.5, "values": [0.7071, 1, 1.4142, 2, 2.8284], "labelExpr": "datum.value == 1 ? '1' : (datum.value == 2 ? '2' : '')", "labelOverlap": false, "labelFlush": false, "domain": false, "grid": true, "gridColor": "#FFFFFF", "gridWidth": {"condition": {"test": "datum.value == 1 || datum.value == 2", "value": 1.6}, "value": 0.8}, "tickColor": "#333333", "tickOpacity": {"condition": {"test": "datum.value == 1 || datum.value == 2", "value": 1}, "value": 0}, "tickSize": 5, "tickWidth": 1.1, "labelColor": "#4D4D4D", "labelFontSize": 16, "labelFont": "Liberation Sans", "labelPadding": 5.5}}
},
"layer": [
{"data": {"name": "Lcore"}, "mark": {"type": "circle", "size": 62, "color": "#000000", "opacity": 1, "clip": true}},
{"data": {"name": "Lout"}, "mark": {"type": "circle", "size": 47, "color": "#000000", "opacity": 1, "clip": true}},
{"data": {"values": [{"x": 0.4, "y": 0.4}, {"x": 4, "y": 4}]}, "mark": {"type": "line", "color": "#000000", "strokeWidth": 1.4, "clip": true}},
{"data": {"values": [{"x": 1.63, "y": 0.753, "t": "r-squared: 0.82"}, {"x": 1.63, "y": 0.656, "t": "beta: 0.89"}]}, "mark": {"type": "text", "align": "left", "baseline": "middle", "fontSize": 22, "font": "Liberation Sans", "color": "#000000", "clip": true}, "encoding": {"text": {"field": "t", "type": "nominal"}}}
]
},
{
"width": 382, "height": 768,
"encoding": {
"x": {"field": "x", "type": "quantitative", "scale": {"type": "log", "domain": [0.531, 3.235], "nice": false, "zero": false},
 "axis": {"title": null, "values": [0.7071, 1, 1.4142, 2, 2.8284], "labelExpr": "datum.value == 1 ? '1' : (datum.value == 2 ? '2' : '')", "labelOverlap": false, "labelFlush": false, "domain": false, "grid": true, "gridColor": "#FFFFFF", "gridWidth": {"condition": {"test": "datum.value == 1 || datum.value == 2", "value": 1.6}, "value": 0.8}, "tickColor": "#333333", "tickOpacity": {"condition": {"test": "datum.value == 1 || datum.value == 2", "value": 1}, "value": 0}, "tickSize": 5, "tickWidth": 1.1, "labelColor": "#4D4D4D", "labelFontSize": 16, "labelFont": "Liberation Sans", "labelPadding": 5}},
"y": {"field": "y", "type": "quantitative", "scale": {"type": "log", "domain": [0.531, 3.46], "nice": false, "zero": false},
 "axis": {"title": "HR: PSR with COVID-19 Censoring", "titleFont": "Liberation Sans", "titleFontSize": 23.5, "titleFontWeight": "normal", "titleColor": "#000000", "titlePadding": 10, "values": [0.7071, 1, 1.4142, 2, 2.8284], "labels": false, "ticks": false, "domain": false, "grid": true, "gridColor": "#FFFFFF", "gridWidth": {"condition": {"test": "datum.value == 1 || datum.value == 2", "value": 1.6}, "value": 0.8}}}
},
"layer": [
{"data": {"name": "Rcore"}, "mark": {"type": "circle", "size": 62, "color": "#000000", "opacity": 1, "clip": true}},
{"data": {"name": "Rout"}, "mark": {"type": "circle", "size": 47, "color": "#000000", "opacity": 1, "clip": true}},
{"data": {"values": [{"x": 0.4, "y": 0.4}, {"x": 4, "y": 4}]}, "mark": {"type": "line", "color": "#000000", "strokeWidth": 1.4, "clip": true}},
{"data": {"values": [{"x": 1.627, "y": 0.753, "t": "r-squared: 0.96"}, {"x": 1.627, "y": 0.656, "t": "beta: 1"}]}, "mark": {"type": "text", "align": "left", "baseline": "middle", "fontSize": 22, "font": "Liberation Sans", "color": "#000000", "clip": true}, "encoding": {"text": {"field": "t", "type": "nominal"}}}
]
}
]
}
